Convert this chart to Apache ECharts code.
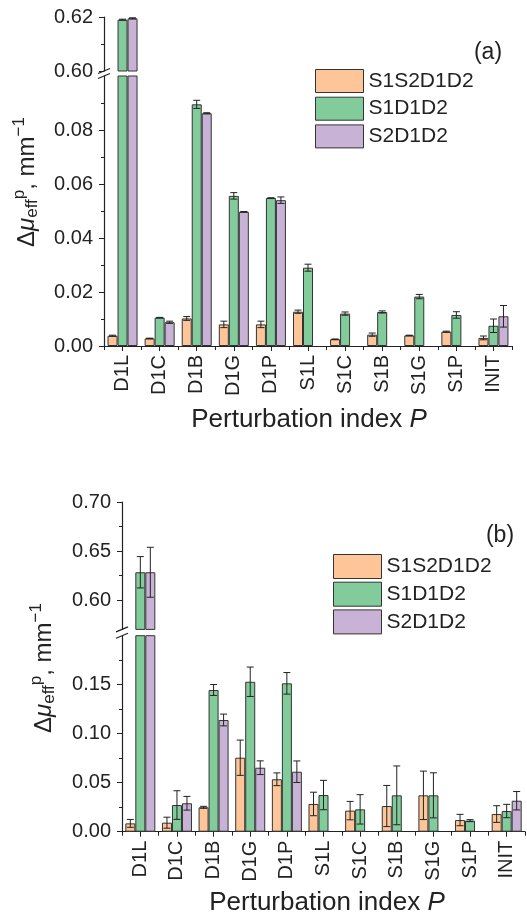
<!DOCTYPE html>
<html lang="en">
<head>
    <meta charset="UTF-8">
    <title>perturbation index</title>
    <script src="https://cdn.jsdelivr.net/npm/echarts@6/dist/echarts.min.js"></script>
    <style>
        html, body { margin: 0; padding: 0; background: #fff; }
        #main { width: 527px; height: 921px; }
    </style>
</head>
<body>
<div id="main"></div>
<script>
    var categories = ['D1L', 'D1C', 'D1B', 'D1G', 'D1P', 'S1L', 'S1C', 'S1B', 'S1G', 'S1P', 'INIT'];
    var seriesNames = ['S1S2D1D2', 'S1D1D2', 'S2D1D2'];

    // panel (a)
    var aS1S2D1D2 = [0.0038, 0.0028, 0.0102, 0.0080, 0.0080, 0.0127, 0.0025, 0.0042, 0.0039, 0.0053, 0.0030];
    var aS1S2D1D2Err = [0.0002, 0.0001, 0.0007, 0.0012, 0.0012, 0.0006, 0.0001, 0.0006, 0.0001, 0.0002, 0.0007];
    var aS1D1D2 = [0.6190, 0.0105, 0.0895, 0.0556, 0.0548, 0.0290, 0.0120, 0.0126, 0.0183, 0.0115, 0.0075];
    var aS1D1D2Err = [0.0002, 0.0001, 0.0015, 0.0012, 0.0001, 0.0013, 0.0006, 0.0004, 0.0008, 0.0012, 0.0025];
    var aS2D1D2 = [0.6195, 0.0088, 0.0862, 0.0497, 0.0540, null, null, null, null, null, 0.0110];
    var aS2D1D2Err = [0.0002, 0.0004, 0.0002, 0.0001, 0.0012, null, null, null, null, null, 0.0040];

    // panel (b)
    var bS1S2D1D2 = [0.0085, 0.0092, 0.0249, 0.0755, 0.0535, 0.0283, 0.0215, 0.0262, 0.0371, 0.0119, 0.0180];
    var bS1S2D1D2Err = [0.0040, 0.0056, 0.0010, 0.0180, 0.0065, 0.0120, 0.0094, 0.0210, 0.0247, 0.0058, 0.0085];
    var bS1D1D2 = [0.6283, 0.0272, 0.1446, 0.1530, 0.1514, 0.0374, 0.0228, 0.0371, 0.0371, 0.0113, 0.0211];
    var bS1D1D2Err = [0.0160, 0.0146, 0.0056, 0.0150, 0.0110, 0.0150, 0.0150, 0.0300, 0.0230, 0.0010, 0.0068];
    var bS2D1D2 = [0.6283, 0.0290, 0.1140, 0.0653, 0.0612, null, null, null, null, null, 0.0316];
    var bS2D1D2Err = [0.0255, 0.0070, 0.0060, 0.0070, 0.0110, null, null, null, null, null, 0.0094];

    // broken y axes: upper / lower part of each panel
    var aUpperRange = [0.60, 0.62], aLowerRange = [0, 0.10];
    var aUpperTicks = [0.60, 0.62], aUpperMinor = [0.61];
    var aLowerTicks = [0, 0.02, 0.04, 0.06, 0.08], aLowerMinor = [0.01, 0.03, 0.05, 0.07, 0.09];
    var bUpperRange = [0.57, 0.70], bLowerRange = [0, 0.20];
    var bUpperTicks = [0.60, 0.65, 0.70], bUpperMinor = [0.625, 0.675];
    var bLowerTicks = [0, 0.05, 0.10, 0.15], bLowerMinor = [0.025, 0.075, 0.125, 0.175];

    var colors = ['#fdc598', '#82cb9a', '#c8b3d7'];
    var font = "'Liberation Sans', Arial, sans-serif";
    var ink = '#222';
    var barW = 10;

    var grids = [
        {left: 104, right: 15, top: 17, height: 54},
        {left: 104, right: 15, top: 76, height: 270},
        {left: 122, right: 2, top: 502, height: 127.4},
        {left: 122, right: 2, top: 635.7, height: 196}
    ];
    var gridAxis = [
        {range: aUpperRange, ticks: aUpperTicks, minor: aUpperMinor},
        {range: aLowerRange, ticks: aLowerTicks, minor: aLowerMinor},
        {range: bUpperRange, ticks: bUpperTicks, minor: bUpperMinor},
        {range: bLowerRange, ticks: bLowerTicks, minor: bLowerMinor}
    ];
    var panelData = [
        {vals: [aS1S2D1D2, aS1D1D2, aS2D1D2], errs: [aS1S2D1D2Err, aS1D1D2Err, aS2D1D2Err]},
        {vals: [bS1S2D1D2, bS1D1D2, bS2D1D2], errs: [bS1S2D1D2Err, bS1D1D2Err, bS2D1D2Err]}
    ];

    var xAxes = [], yAxes = [], series = [];

    grids.forEach(function (g, gi) {
        var lower = gi % 2 === 1;
        var ax = gridAxis[gi];
        xAxes.push({
            type: 'category', gridIndex: gi, data: categories, position: 'bottom', show: lower,
            axisLine: {show: true, onZero: false, lineStyle: {color: ink, width: 1.2}},
            axisTick: {show: true, alignWithLabel: true, length: 5, lineStyle: {color: ink}},
            axisLabel: {rotate: 90, fontSize: 20, color: ink, fontFamily: font, margin: 9}
        });
        yAxes.push({
            type: 'value', gridIndex: gi, position: 'left', min: ax.range[0], max: ax.range[1],
            splitLine: {show: false},
            axisLine: {show: true, lineStyle: {color: ink, width: 1.2}},
            axisTick: {show: true, length: 5, customValues: ax.ticks, lineStyle: {color: ink}},
            axisLabel: {
                customValues: ax.ticks, fontSize: 20, color: ink, fontFamily: font, margin: 11,
                formatter: function (v) { return v.toFixed(2); }
            }
        });
        yAxes.push({
            type: 'value', gridIndex: gi, position: 'left', min: ax.range[0], max: ax.range[1],
            splitLine: {show: false}, axisLine: {show: false}, axisLabel: {show: false},
            axisTick: {show: true, length: 3, customValues: ax.minor, lineStyle: {color: ink}}
        });

        var pd = panelData[Math.floor(gi / 2)];
        for (var s = 0; s < 3; s++) {
            var vals = pd.vals[s], errs = pd.errs[s];
            series.push({
                type: 'bar', name: seriesNames[s], xAxisIndex: gi, yAxisIndex: gi * 2,
                barWidth: barW, barGap: '0%', clip: true,
                itemStyle: {color: colors[s], borderColor: '#333', borderWidth: 1},
                data: vals.map(function (v) {
                    return (v == null || v < ax.range[0]) ? null : v;
                })
            });
            var errData = [];
            vals.forEach(function (v, i) {
                if (v != null && v >= ax.range[0] && v <= ax.range[1]) errData.push([i, v, errs[i]]);
            });
            series.push({
                type: 'custom', name: 'err', xAxisIndex: gi, yAxisIndex: gi * 2, z: 5, silent: true, clip: true,
                data: errData,
                renderItem: (function (offset) {
                    return function (params, api) {
                        var i = api.value(0), v = api.value(1), e = api.value(2);
                        var top = api.coord([i, v + e]), bot = api.coord([i, v - e]);
                        var x = top[0] + offset, st = {stroke: ink, lineWidth: 1};
                        return {
                            type: 'group', children: [
                                {type: 'line', shape: {x1: x, y1: top[1], x2: x, y2: bot[1]}, style: st},
                                {type: 'line', shape: {x1: x - 3.5, y1: top[1], x2: x + 3.5, y2: top[1]}, style: st},
                                {type: 'line', shape: {x1: x - 3.5, y1: bot[1], x2: x + 3.5, y2: bot[1]}, style: st}
                            ]
                        };
                    };
                })((s - 1) * barW)
            });
        }
    });

    // boundary ticks between categories
    [1, 3].forEach(function (gi) {
        xAxes.push({
            type: 'category', gridIndex: gi, data: categories, position: 'bottom',
            axisLine: {show: false}, axisLabel: {show: false},
            axisTick: {show: true, length: 4, lineStyle: {color: ink}}
        });
    });

    // break marks on the y axis
    var graphics = [];
    [[0, 1], [2, 3]].forEach(function (pair) {
        var up = grids[pair[0]], lo = grids[pair[1]];
        var x0 = up.left;
        [up.top + up.height, lo.top].forEach(function (y0) {
            graphics.push({
                type: 'line', silent: true,
                shape: {x1: x0 - 6, y1: y0 + 2.5, x2: x0 + 6, y2: y0 - 2.5},
                style: {stroke: ink, lineWidth: 1.2}
            });
        });
    });

    function yTitle(x, y) {
        return {
            type: 'text', x: x, y: y, rotation: Math.PI / 2, silent: true,
            style: {
                text: 'Δ{i|μ}{sub|eff}{sup|p}, mm{sup|−1}',
                fontSize: 24, fontFamily: font, fill: ink,
                textAlign: 'center', textVerticalAlign: 'middle', align: 'center', verticalAlign: 'middle',
                rich: {
                    i: {fontSize: 24, fontStyle: 'italic', fontFamily: font, fill: ink},
                    sub: {fontSize: 17, fontFamily: font, fill: ink, padding: [11, 0, 0, 0]},
                    sup: {fontSize: 17, fontFamily: font, fill: ink, padding: [0, 0, 16, 0]}
                }
            }
        };
    }

    function xTitle(x, y) {
        return {
            type: 'text', x: x, y: y, silent: true,
            style: {
                text: 'Perturbation index {i|P}', fontSize: 26, fontFamily: font, fill: ink,
                textAlign: 'center', textVerticalAlign: 'middle', align: 'center', verticalAlign: 'middle',
                rich: {i: {fontSize: 26, fontStyle: 'italic', fontFamily: font, fill: ink}}
            }
        };
    }

    function panelLabel(text, x, y) {
        return {
            type: 'text', x: x, y: y, silent: true,
            style: {
                text: text, fontSize: 23, fontFamily: font, fill: ink,
                textAlign: 'center', textVerticalAlign: 'middle', align: 'center', verticalAlign: 'middle'
            }
        };
    }

    graphics.push(yTitle(27, 182), yTitle(44, 668));
    graphics.push(xTitle(309, 420), xTitle(327, 903));
    graphics.push(panelLabel('(a)', 488, 53), panelLabel('(b)', 500, 536));

    var legendBase = {
        data: seriesNames, orient: 'vertical', selectedMode: false, icon: 'rect',
        itemWidth: 48, itemHeight: 23, itemGap: 3.7,
        itemStyle: {borderColor: '#333', borderWidth: 1},
        textStyle: {fontSize: 21, color: ink, fontFamily: font}
    };

    var option = {
        animation: false,
        backgroundColor: '#fff',
        grid: grids,
        xAxis: xAxes,
        yAxis: yAxes,
        legend: [
            Object.assign({}, legendBase, {left: 310, top: 64}),
            Object.assign({}, legendBase, {left: 328, top: 549, itemHeight: 24, itemGap: 2.7})
        ],
        graphic: graphics,
        series: series
    };

    var chart = echarts.init(document.getElementById('main'));
    chart.setOption(option);
</script>
</body>
</html>
